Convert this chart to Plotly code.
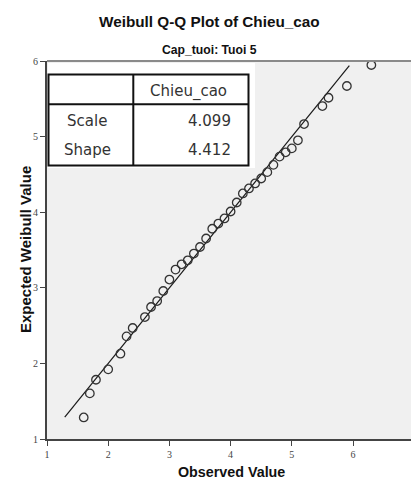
import plotly.graph_objects as go

# Data
observed = [1.6, 1.7, 1.8, 2.0, 2.2, 2.3, 2.4, 2.6, 2.7, 2.8, 2.9, 3.0, 3.1, 3.2, 3.3,
            3.4, 3.5, 3.6, 3.7, 3.8, 3.9, 4.0, 4.1, 4.2, 4.3, 4.4, 4.5, 4.6, 4.7, 4.8,
            4.9, 5.0, 5.1, 5.2, 5.5, 5.6, 5.9, 6.3]
expected = [1.285, 1.603, 1.784, 1.921, 2.128, 2.358, 2.468, 2.613, 2.746, 2.825,
            2.958, 3.109, 3.241, 3.311, 3.364, 3.453, 3.540, 3.652, 3.781, 3.850,
            3.917, 4.009, 4.128, 4.248, 4.314, 4.380, 4.446, 4.530, 4.626, 4.735,
            4.792, 4.844, 4.951, 5.166, 5.404, 5.514, 5.669, 5.947]
ref_line = [1.29, 5.94]
x_ticks = [1, 2, 3, 4, 5, 6]
y_ticks = [1, 2, 3, 4, 5, 6]
table_header = "Chieu_cao"
table_rows = ["Scale", "Shape"]
table_vals = ["4.099", "4.412"]

W, H = 411, 480
L, R, T, B = 47, 0, 61, 41
PW, PH = W - L - R, H - T - B


def px(x):
    return (x - L) / PW


def py(y):
    return (H - B - y) / PH


fig = go.Figure()
fig.add_trace(go.Scatter(x=ref_line, y=ref_line, mode="lines",
                         line=dict(color="#1a1a1a", width=1.2),
                         showlegend=False, hoverinfo="skip"))
fig.add_trace(go.Scatter(x=observed, y=expected, mode="markers",
                         marker=dict(symbol="circle-open", size=8.5, color="#333333",
                                     line=dict(width=1.3)),
                         showlegend=False))

shapes = []
shapes.append(dict(type="rect", xref="paper", yref="paper",
                   x0=px(48), x1=px(255), y0=py(168), y1=py(63),
                   fillcolor="white", line=dict(width=0), layer="above"))
shapes.append(dict(type="rect", xref="paper", yref="paper",
                   x0=px(48.5), x1=px(248.5), y0=py(165.5), y1=py(74.5),
                   fillcolor="rgba(0,0,0,0)", line=dict(color="#111", width=2), layer="above"))
shapes.append(dict(type="line", xref="paper", yref="paper",
                   x0=px(48.5), x1=px(248.5), y0=py(104.3), y1=py(104.3),
                   line=dict(color="#111", width=2), layer="above"))
shapes.append(dict(type="line", xref="paper", yref="paper",
                   x0=px(133.3), x1=px(133.3), y0=py(165.5), y1=py(74.5),
                   line=dict(color="#111", width=2), layer="above"))
shapes.append(dict(type="line", xref="paper", yref="paper",
                   x0=0, x1=1, y0=1, y1=1,
                   line=dict(color="#8a8a8a", width=2), layer="above"))

annotations = []
tfont = dict(family="DejaVu Sans, sans-serif", size=15, color="#333333")
annotations.append(dict(text=table_header, xref="paper", yref="paper",
                        x=px(188), y=py(92), showarrow=False, font=tfont,
                        xanchor="center", yanchor="middle"))
for i, (lab, val) in enumerate(zip(table_rows, table_vals)):
    yy = py(121 + 29 * i)
    annotations.append(dict(text=lab, xref="paper", yref="paper", x=px(87), y=yy,
                            showarrow=False, font=tfont, xanchor="center", yanchor="middle"))
    annotations.append(dict(text=val, xref="paper", yref="paper", x=px(233), y=yy,
                            showarrow=False, font=tfont, xanchor="right", yanchor="middle"))

hfam = "Liberation Sans, Arial, sans-serif"
annotations.append(dict(text="<b>Weibull Q-Q Plot of Chieu_cao</b>", xref="paper", yref="paper",
                        x=px(209), y=py(22), showarrow=False, xanchor="center", yanchor="middle",
                        font=dict(family=hfam, size=15.3, color="#111")))
annotations.append(dict(text="<b>Cap_tuoi: Tuoi 5</b>", xref="paper", yref="paper",
                        x=px(209), y=py(50), showarrow=False, xanchor="center", yanchor="middle",
                        font=dict(family=hfam, size=12.2, color="#111")))
annotations.append(dict(text="<b>Observed Value</b>", xref="paper", yref="paper",
                        x=px(231), y=py(472), showarrow=False, xanchor="center", yanchor="middle",
                        font=dict(family=hfam, size=14.3, color="#111")))
annotations.append(dict(text="<b>Expected Weibull Value</b>", xref="paper", yref="paper",
                        x=px(25), y=py(250), showarrow=False, xanchor="center", yanchor="middle",
                        textangle=-90,
                        font=dict(family=hfam, size=15, color="#111")))

tickfont = dict(family="Liberation Serif, serif", size=10, color="#444")
fig.update_layout(
    width=W, height=H,
    margin=dict(l=L, r=R, t=T, b=B, pad=0),
    paper_bgcolor="white", plot_bgcolor="#f0f0f0",
    shapes=shapes, annotations=annotations,
    xaxis=dict(range=[1, 1 + PW / 61.2], tickvals=x_ticks, ticktext=[str(v) for v in x_ticks],
               showgrid=False, zeroline=False, showline=True, linecolor="#444", linewidth=2,
               ticks="outside", ticklen=5, tickcolor="#444", tickwidth=1, tickfont=tickfont),
    yaxis=dict(range=[1, 6], tickvals=y_ticks, ticktext=[str(v) for v in y_ticks],
               showgrid=False, zeroline=False, showline=True, linecolor="#444", linewidth=2,
               ticks="outside", ticklen=5, tickcolor="#444", tickwidth=1, tickfont=tickfont),
)

fig.write_html("out.html")
